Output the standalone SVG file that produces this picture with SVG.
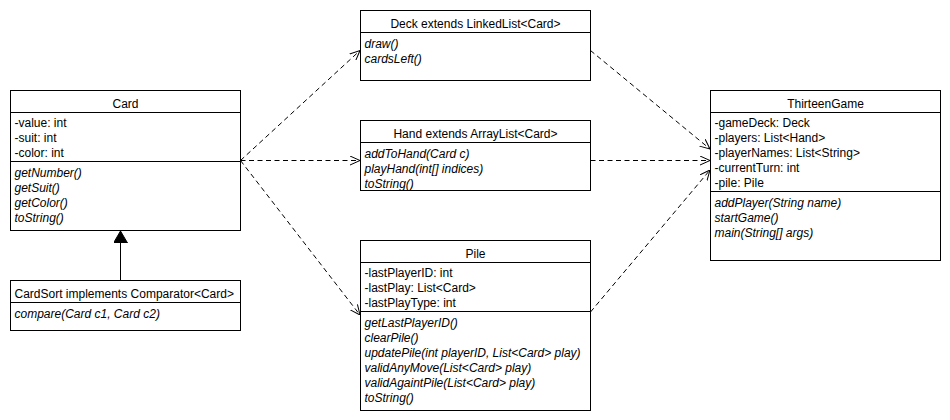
<svg xmlns="http://www.w3.org/2000/svg" width="950" height="420" viewBox="0 0 950 420">
<style>
.box{fill:#fff;stroke:#000;stroke-width:1}
.sep{stroke:#000;stroke-width:1}
text{font-family:"Liberation Sans",Arial,Helvetica,sans-serif;font-size:12px;fill:#000}
.t{text-anchor:middle}
.m{font-style:italic}
.dep{fill:none;stroke:#000;stroke-width:1;stroke-dasharray:5 3.5}
.inh{fill:none;stroke:#000;stroke-width:1}
</style>
<defs>
<marker id="open" viewBox="0 0 10 10" refX="10" refY="5" markerWidth="10" markerHeight="10" markerUnits="userSpaceOnUse" orient="auto">
<path d="M0,0.5 L10,5 L0,9.5" fill="none" stroke="#000" stroke-width="1" stroke-dasharray="none"/>
</marker>
<marker id="block" viewBox="0 0 12 14" refX="12" refY="7" markerWidth="12" markerHeight="14" markerUnits="userSpaceOnUse" orient="auto">
<path d="M0,0 L12,7 L0,14 z" fill="#000" stroke="#000" stroke-width="1"/>
</marker>
</defs>

<g id="connectors">
<path class="dep" d="M240.5,160.5 L360,50.5" marker-end="url(#open)"/>
<path class="dep" d="M240.5,160.5 L360,160.5" marker-end="url(#open)"/>
<path class="dep" d="M240.5,160.5 L360,315" marker-end="url(#open)"/>
<path class="dep" d="M590.5,50.5 L710,149" marker-end="url(#open)"/>
<path class="dep" d="M590.5,160.5 L710,160.5" marker-end="url(#open)"/>
<path class="dep" d="M590.5,312 L710,170" marker-end="url(#open)"/>
<path class="inh" d="M120.5,280.5 L120.5,231" marker-end="url(#block)"/>
</g>

<g id="card">
<rect class="box" x="10.5" y="90.5" width="230" height="140"/>
<line class="sep" x1="10.5" y1="112.5" x2="240.5" y2="112.5"/>
<line class="sep" x1="10.5" y1="161.5" x2="240.5" y2="161.5"/>
<text class="t" x="125.5" y="107.5">Card</text>
<text x="14.5" y="127">-value: int</text>
<text x="14.5" y="142">-suit: int</text>
<text x="14.5" y="157">-color: int</text>
<text class="m" x="14.5" y="176.5">getNumber()</text>
<text class="m" x="14.5" y="191.5">getSuit()</text>
<text class="m" x="14.5" y="206.5">getColor()</text>
<text class="m" x="14.5" y="221.5">toString()</text>
</g>

<g id="cardsort">
<rect class="box" x="10.5" y="280.5" width="230" height="50"/>
<line class="sep" x1="10.5" y1="302.5" x2="240.5" y2="302.5"/>
<text x="14.5" y="297.5">CardSort implements Comparator&lt;Card&gt;</text>
<text class="m" x="14.5" y="317.5">compare(Card c1, Card c2)</text>
</g>

<g id="deck">
<rect class="box" x="360.5" y="10.5" width="230" height="70"/>
<line class="sep" x1="360.5" y1="32.5" x2="590.5" y2="32.5"/>
<text class="t" x="475.5" y="27.5">Deck extends LinkedList&lt;Card&gt;</text>
<text class="m" x="364.5" y="47.5">draw()</text>
<text class="m" x="364.5" y="62.5">cardsLeft()</text>
</g>

<g id="hand">
<rect class="box" x="360.5" y="120.5" width="230" height="70"/>
<line class="sep" x1="360.5" y1="142.5" x2="590.5" y2="142.5"/>
<text class="t" x="475.5" y="137.5">Hand extends ArrayList&lt;Card&gt;</text>
<text class="m" x="364.5" y="157.5">addToHand(Card c)</text>
<text class="m" x="364.5" y="172.5">playHand(int[] indices)</text>
<text class="m" x="364.5" y="187.5">toString()</text>
</g>

<g id="pile">
<rect class="box" x="360.5" y="240.5" width="230" height="170"/>
<line class="sep" x1="360.5" y1="262.5" x2="590.5" y2="262.5"/>
<line class="sep" x1="360.5" y1="311.5" x2="590.5" y2="311.5"/>
<text class="t" x="475.5" y="257.5">Pile</text>
<text x="364.5" y="277">-lastPlayerID: int</text>
<text x="364.5" y="292">-lastPlay: List&lt;Card&gt;</text>
<text x="364.5" y="307">-lastPlayType: int</text>
<text class="m" x="364.5" y="326.5">getLastPlayerID()</text>
<text class="m" x="364.5" y="341.5">clearPile()</text>
<text class="m" x="364.5" y="356.5">updatePile(int playerID, List&lt;Card&gt; play)</text>
<text class="m" x="364.5" y="371.5">validAnyMove(List&lt;Card&gt; play)</text>
<text class="m" x="364.5" y="386.5">validAgaintPile(List&lt;Card&gt; play)</text>
<text class="m" x="364.5" y="401.5">toString()</text>
</g>

<g id="thirteengame">
<rect class="box" x="710.5" y="90.5" width="230" height="170"/>
<line class="sep" x1="710.5" y1="112.5" x2="940.5" y2="112.5"/>
<line class="sep" x1="710.5" y1="191.5" x2="940.5" y2="191.5"/>
<text class="t" x="825.5" y="107.5">ThirteenGame</text>
<text x="714.5" y="127">-gameDeck: Deck</text>
<text x="714.5" y="142">-players: List&lt;Hand&gt;</text>
<text x="714.5" y="157">-playerNames: List&lt;String&gt;</text>
<text x="714.5" y="172">-currentTurn: int</text>
<text x="714.5" y="187">-pile: Pile</text>
<text class="m" x="714.5" y="206.5">addPlayer(String name)</text>
<text class="m" x="714.5" y="221.5">startGame()</text>
<text class="m" x="714.5" y="236.5">main(String[] args)</text>
</g>
</svg>
